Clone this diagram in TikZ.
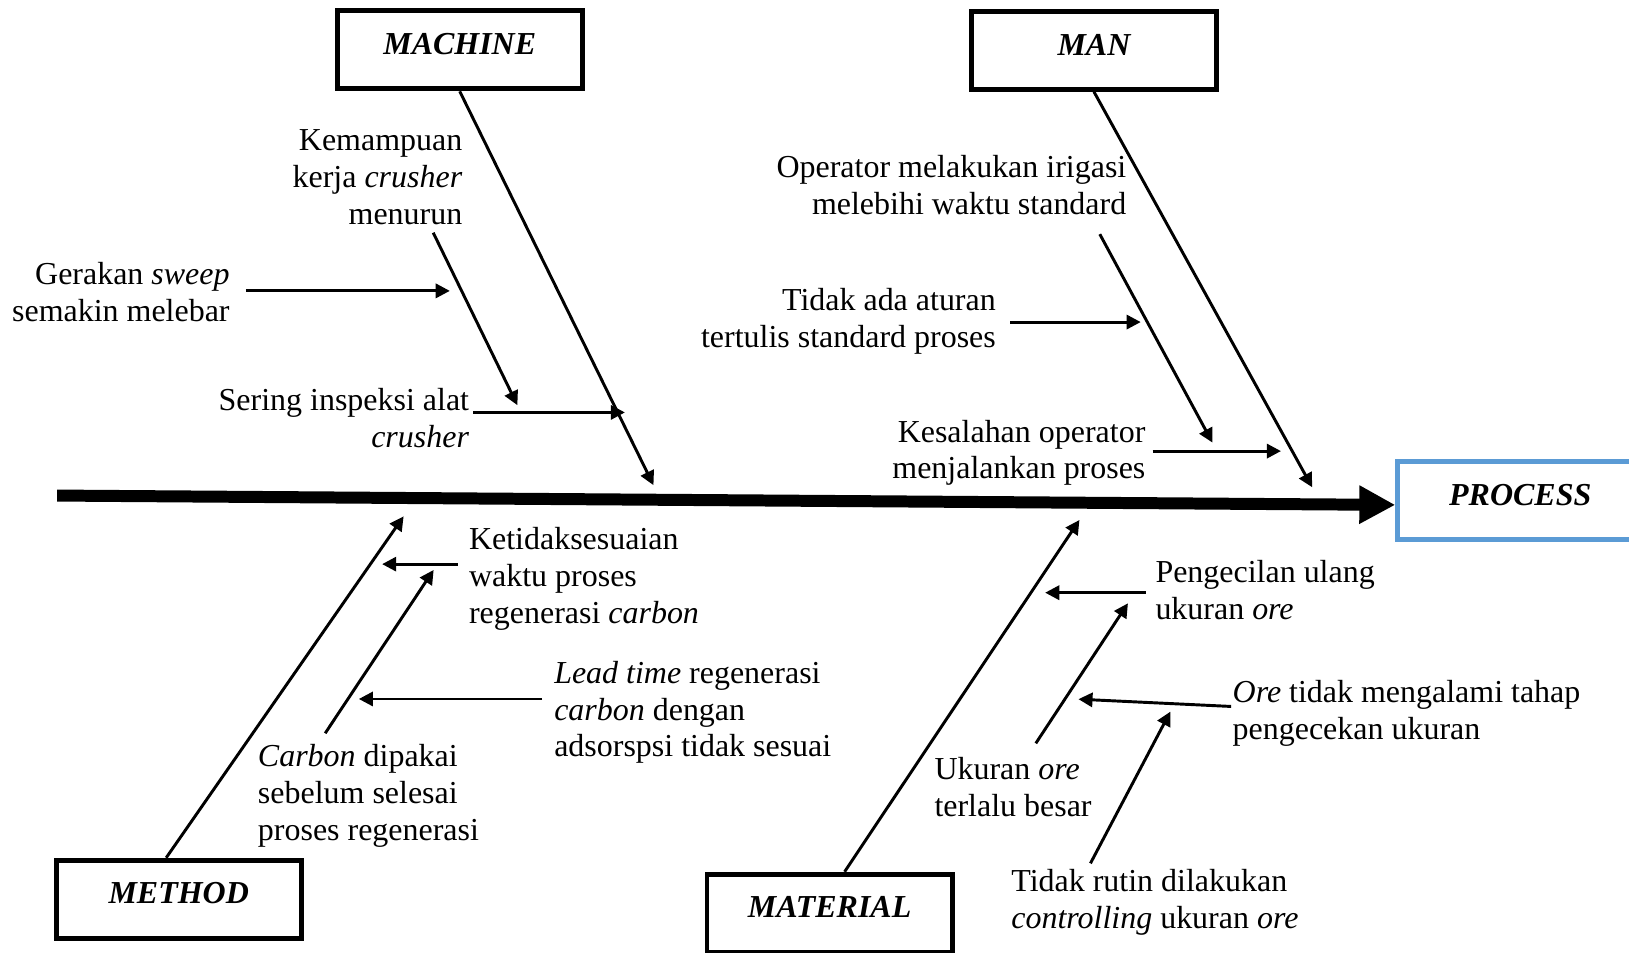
\documentclass[tikz,border=0pt]{standalone}
\usepackage{fontspec}
\setmainfont{Liberation Serif}
\usetikzlibrary{arrows.meta,calc}
\definecolor{procblue}{HTML}{5B9BD5}
\begin{document}
\begin{tikzpicture}[x=0.39pt,y=-0.39pt,
  every node/.style={font=\fontsize{12}{13.8}\selectfont},
  category/.style={draw, line width=1.8pt, minimum width=92pt, minimum height=29.3pt,
    inner sep=0pt, text height=8pt, text depth=4.5pt,
    font=\fontsize{12}{13.8}\selectfont\bfseries\itshape},
  % multi-line labels are placed by the baseline of their last line
  causeR/.style={align=right, anchor=base east, inner sep=0pt},
  causeL/.style={align=left, anchor=base west, inner sep=0pt},
  bone/.style={line width=1.1pt, -{Triangle[length=5.3pt,width=5.3pt]}},
  causeArrow/.style={line width=1.1pt, -{Triangle[length=5.3pt,width=5.3pt]}},
  spine/.style={line width=4.5pt, -{Triangle[length=13.5pt,width=13.5pt]}}
]
\path[use as bounding box, clip] (0,0) rectangle (1568,917);

% category boxes
\node[category] (machine) at (442.5,48) {MACHINE};
\node[category] (man) at (1053,48.5) {MAN};
\node[category] (method) at (172,865.5) {METHOD};
\node[category] (material) at (798.5,879) {MATERIAL};

% spine to the effect box
\coordinate (spineStart) at (55,477);
\node[category, draw=procblue] (process) at (1463.3,482) {PROCESS};
\draw[spine] (spineStart) -- ($(process.west)+(0,4)$);

% main bones
\coordinate (machineTip) at (629,467);
\coordinate (manTip) at (1263,469);
\coordinate (methodTip) at (388.5,497);
\coordinate (materialTip) at (1039,500.5);
\draw[bone] (machine.south) -- (machineTip);
\draw[bone] (man.south) -- (manTip);
\draw[bone] ($(method.north west)!0.45!(method.north east)$) -- (methodTip);
\draw[bone] ($(material.north west)!0.56!(material.north east)$) -- (materialTip);

% machine causes
\node[causeR] (t1) at (445.5,216) {Kemampuan\\kerja \textit{crusher}\\menurun};
\node[causeR] (t2) at (221.5,309) {Gerakan \textit{sweep}\\semakin melebar};
\node[causeR] (t3) at (452,430.5) {Sering inspeksi alat\\\textit{crusher}};
\coordinate (c1s) at (417,224);    \coordinate (c1e) at (498,390);
\coordinate (c2s) at (236.6,280);  \coordinate (c2e) at (433,280);
\coordinate (c3s) at (455.6,397);  \coordinate (c3e) at (601.5,397);
\draw[causeArrow] (c1s) -- (c1e);
\draw[causeArrow] (c2s) -- (c2e);
\draw[causeArrow] (c3s) -- (c3e);

% man causes
\node[causeR] (t4) at (1084.6,206) {Operator melakukan irigasi\\melebihi waktu standard};
\node[causeR] (t5) at (959,334.5) {Tidak ada aturan\\tertulis standard proses};
\node[causeR] (t6) at (1103,461) {Kesalahan operator\\menjalankan proses};
\coordinate (c4s) at (1058.6,225.4); \coordinate (c4e) at (1167,426);
\coordinate (c5s) at (972.6,310);    \coordinate (c5e) at (1098,310);
\coordinate (c6s) at (1109.5,434.2); \coordinate (c6e) at (1233,434.2);
\draw[causeArrow] (c4s) -- (c4e);
\draw[causeArrow] (c5s) -- (c5e);
\draw[causeArrow] (c6s) -- (c6e);

% method causes
\node[causeL] (t7) at (451,600) {Ketidaksesuaian\\waktu proses\\regenerasi \textit{carbon}};
\node[causeL] (t8) at (533,728.5) {\textit{Lead time} regenerasi\\\textit{carbon} dengan\\adsorspsi tidak sesuai};
\node[causeL] (t9) at (247.8,809) {\textit{Carbon} dipakai\\sebelum selesai\\proses regenerasi};
\coordinate (c7s) at (440.8,543);   \coordinate (c7e) at (367.8,543);
\coordinate (c8s) at (521.7,672.8); \coordinate (c8e) at (345.4,672.8);
\coordinate (c9s) at (313,705.8);   \coordinate (c9e) at (417.4,548.6);
\draw[causeArrow] (c7s) -- (c7e);
\draw[causeArrow] (c8s) -- (c8e);
\draw[causeArrow] (c9s) -- (c9e);

% material causes
\node[causeL] (t10) at (1111.7,596.5) {Pengecilan ulang\\ukuran \textit{ore}};
\node[causeL] (t11) at (1186,711.5) {\textit{Ore} tidak mengalami tahap\\pengecekan ukuran};
\node[causeL] (t12) at (899,786) {Ukuran \textit{ore}\\terlalu besar};
\node[causeL] (t13) at (973,893.5) {Tidak rutin dilakukan\\\textit{controlling} ukuran \textit{ore}};
\coordinate (c10s) at (1103,570.5);  \coordinate (c10e) at (1006,570.5);
\coordinate (c11s) at (1185,680);    \coordinate (c11e) at (1038,673);
\coordinate (c12s) at (997,715.5);   \coordinate (c12e) at (1085.7,580.7);
\coordinate (c13s) at (1049.6,831);  \coordinate (c13e) at (1126.5,685);
\draw[causeArrow] (c10s) -- (c10e);
\draw[causeArrow] (c11s) -- (c11e);
\draw[causeArrow] (c12s) -- (c12e);
\draw[causeArrow] (c13s) -- (c13e);
\end{tikzpicture}
\end{document}
